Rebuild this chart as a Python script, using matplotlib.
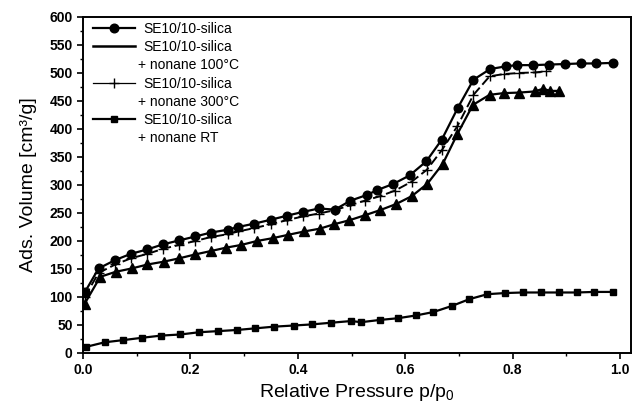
"""
N2 adsorption isotherms of SE10/10-silica before and after nonane loading.
Writes out.png
"""
import matplotlib
matplotlib.use("Agg")
import matplotlib.pyplot as plt
from matplotlib.lines import Line2D
from matplotlib.ticker import MultipleLocator

# values
P_PURE = [0.003, 0.029, 0.060, 0.089, 0.120, 0.149, 0.179, 0.209, 0.238, 0.269,
          0.289, 0.319, 0.350, 0.379, 0.410, 0.439, 0.469, 0.498, 0.528, 0.548,
          0.578, 0.608, 0.639, 0.668, 0.698, 0.727, 0.758, 0.788, 0.808, 0.837,
          0.867, 0.898, 0.927, 0.956, 0.986]
V_PURE = [108, 151, 166, 177, 185, 194, 201, 208, 215, 220,
          225, 231, 238, 245, 252, 258, 256, 272, 282, 291,
          302, 317, 342, 381, 438, 488, 507, 512, 514, 514,
          515, 516, 517, 517, 518]

P_300 = [0.003, 0.029, 0.060, 0.089, 0.120, 0.149, 0.179, 0.209, 0.238, 0.269,
         0.289, 0.319, 0.350, 0.379, 0.410, 0.439, 0.469, 0.498, 0.525, 0.553,
         0.581, 0.612, 0.640, 0.668, 0.697, 0.727, 0.757, 0.783, 0.812, 0.842,
         0.862]
V_300 = [100, 143, 158, 169, 177, 186, 193, 200, 207, 212,
         217, 223, 230, 237, 244, 249, 255, 264, 272, 280,
         290, 306, 327, 362, 405, 461, 494, 498, 500, 501,
         503]

P_100 = [0.003, 0.032, 0.061, 0.091, 0.120, 0.150, 0.179, 0.209, 0.238, 0.266,
         0.295, 0.324, 0.353, 0.382, 0.412, 0.441, 0.468, 0.496, 0.525, 0.553,
         0.583, 0.612, 0.641, 0.670, 0.697, 0.726, 0.757, 0.783, 0.812, 0.841,
         0.857, 0.869, 0.887]
V_100 = [88, 136, 145, 151, 158, 163, 169, 176, 182, 188,
         193, 200, 205, 211, 217, 222, 230, 237, 246, 255,
         266, 280, 302, 338, 391, 443, 461, 464, 465, 467,
         472, 468, 468]

P_RT = [0.006, 0.040, 0.075, 0.109, 0.145, 0.181, 0.216, 0.251, 0.286, 0.321,
        0.356, 0.392, 0.426, 0.462, 0.499, 0.518, 0.553, 0.586, 0.620, 0.652,
        0.687, 0.719, 0.753, 0.786, 0.819, 0.852, 0.886, 0.919, 0.952, 0.986]
V_RT = [11, 19, 23, 27, 31, 33, 37, 39, 41, 44,
        47, 49, 51, 54, 57, 55, 59, 62, 67, 73,
        84, 96, 105, 107, 108, 108, 108, 108, 109, 109]

LABEL_MAIN = "SE10/10-silica"
LABEL_SUB = ["+ nonane 100°C", "+ nonane 300°C", "+ nonane RT"]


def main():
    plt.rcParams["font.family"] = ["Liberation Sans", "DejaVu Sans"]
    fig = plt.figure(figsize=(6.34, 4.09), dpi=100)
    ax = fig.add_axes([0.131, 0.137, 0.864, 0.8215])

    ax.plot(P_PURE, V_PURE, "-", color="k", lw=1.6, marker="o", ms=6.2)
    ax.plot(P_300, V_300, "--", color="k", lw=1.4, dashes=(5, 2),
            marker="+", ms=7.5, mew=1.0)
    ax.plot(P_100, V_100, "-", color="k", lw=1.6, marker="^", ms=7)
    ax.plot(P_RT, V_RT, "-", color="k", lw=1.6, marker="s", ms=5)

    ax.set_xlim(0, 1.02)
    ax.set_ylim(0, 600)
    ax.xaxis.set_major_locator(MultipleLocator(0.2))
    ax.xaxis.set_minor_locator(MultipleLocator(0.1))
    ax.yaxis.set_major_locator(MultipleLocator(50))
    ax.yaxis.set_minor_locator(MultipleLocator(25))
    ax.tick_params(which="major", direction="out", length=4, width=1.2,
                   labelsize=10)
    ax.tick_params(which="minor", direction="out", length=2.5, width=1.0)
    for lbl in ax.get_xticklabels() + ax.get_yticklabels():
        lbl.set_fontweight("bold")
    for sp in ax.spines.values():
        sp.set_linewidth(1.4)

    ax.set_xlabel("Relative Pressure p/p$_\\mathregular{0}$", fontsize=14,
                  labelpad=3)
    ax.set_ylabel("Ads. Volume [cm³/g]", fontsize=14, labelpad=9)

    # legend as drawn in the original: handles on the first line of each entry
    blank = Line2D([], [], lw=0)
    handles = [
        Line2D([], [], color="k", lw=1.6, marker="o", ms=6.2),
        Line2D([], [], color="k", lw=1.8),
        blank,
        Line2D([], [], color="k", lw=0.9, marker="+", ms=7.5, mew=1.0),
        blank,
        Line2D([], [], color="k", lw=1.6, marker="s", ms=5),
        blank,
    ]
    labels = [LABEL_MAIN, LABEL_MAIN, LABEL_SUB[0], LABEL_MAIN, LABEL_SUB[1],
              LABEL_MAIN, LABEL_SUB[2]]
    leg = ax.legend(handles, labels, loc="upper left",
                    bbox_to_anchor=(0.018, 0.985), frameon=False, fontsize=10,
                    handlelength=3.0, handletextpad=0.6, labelspacing=0.3,
                    borderpad=0, borderaxespad=0)
    for t, lab in zip(leg.get_texts(), labels):
        if lab.startswith("+"):
            t.set_position((-5, 0))

    fig.savefig("out.png", dpi=100)
    plt.close(fig)


if __name__ == "__main__":
    main()
